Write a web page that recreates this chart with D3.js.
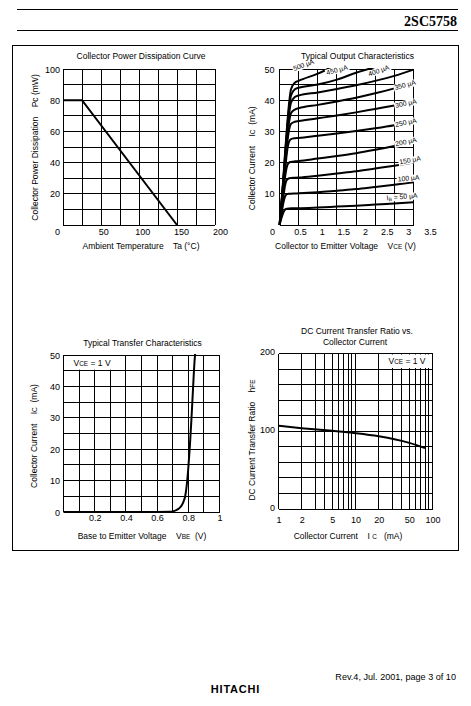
<!DOCTYPE html>
<html><head><meta charset="utf-8">
<script src="https://cdn.jsdelivr.net/npm/d3@7"></script>
<style>
html,body{margin:0;padding:0;background:#fff;}
svg{display:block;}
text{white-space:pre;}
</style></head><body>
<svg id="c" width="471" height="706"></svg>
<script>
// ---------------- DATA ----------------
// Collector power dissipation curve
const pdTemp = [0, 25, 150];
const pdPower = [80, 80, 0];
const pdXTicks = [50, 100, 150, 200];
const pdYTicks = [20, 40, 60, 80, 100];

// Typical output characteristics (Vce grid shared by all IB curves)
const outVce = [0, 0.05, 0.1, 0.15, 0.2, 0.25, 0.3, 0.4, 0.5, 1, 1.5, 2, 2.5, 3, 3.5];
const ic50  = [0, 2.2, 4.0, 5.0, 5.25, 5.3, 5.35, 5.4, 5.4, 5.6, 5.9, 6.2, 6.55, 6.9, 7.3];
const ic100 = [0, 3.5, 7.0, 9.3, 9.9, 10.0, 10.05, 10.1, 10.15, 10.5, 11.0, 11.5, 12.2, 12.9, 13.7];
const ic150 = [0, 4.3, 9.0, 13.0, 14.6, 15.0, 15.1, 15.15, 15.2, 15.8, 16.5, 17.2, 18.1, 19.0, 20.0];
const ic200 = [0, 5.0, 10.5, 15.8, 19.0, 20.0, 20.2, 20.4, 20.5, 21.3, 22.1, 23.0, 24.1, 25.3, 26.4];
const ic250 = [0, 5.6, 11.8, 18.2, 23.8, 26.7, 27.5, 27.8, 27.9, 28.6, 29.3, 30.1, 31.0, 32.0, 33.2];
const ic300 = [0, 6.0, 12.5, 19.5, 26.0, 30.5, 32.4, 33.1, 33.3, 34.2, 35.1, 36.1, 37.2, 38.3, 39.5];
const ic350 = [0, 6.2, 13.2, 21.0, 28.0, 33.0, 35.8, 37.0, 37.4, 38.5, 39.6, 40.8, 42.2, 43.8, 45.6];
const ic400 = [0, 6.5, 14.0, 22.0, 29.5, 35.5, 39.2, 41.0, 41.5, 42.5, 43.6, 44.8, 46.2, 47.8, 49.8];
const ic450 = [0, 6.8, 14.5, 23.0, 31.0, 37.5, 41.5, 43.5, 44.0, 45.0, 46.6, 48.8, 50.6, null, null];
const ic500 = [0, 7.0, 15.0, 24.0, 32.0, 39.0, 43.5, 45.6, 46.2, 48.5, 51.5, null, null, null, null];
const outCurves = [ic50, ic100, ic150, ic200, ic250, ic300, ic350, ic400, ic450, ic500];
const outLabels = ["50 µA", "100 µA", "150 µA", "200 µA", "250 µA", "300 µA", "350 µA", "400 µA", "450 µA", "500 µA"];
const outLabelVce = [3.2, 3.37, 3.41, 3.3, 3.3, 3.3, 3.28, 2.59, 1.5, 0.63];
const outLabelIc  = [9.1, 15.0, 20.8, 26.7, 32.9, 39.0, 44.9, 49.5, 49.7, 51.3];
const outLabelAngle = [-5, -5, -10, -12, -12, -12, -15, -20, -15, -20];
const outXTicks = [0.5, 1, 1.5, 2, 2.5, 3, 3.5];
const outYTicks = [10, 20, 30, 40, 50];

// Typical transfer characteristics
const tfVbe = [0, 0.6, 0.68, 0.7, 0.72, 0.74, 0.76, 0.77, 0.78, 0.79, 0.8, 0.81, 0.82, 0.83, 0.84, 0.845];
const tfIc  = [0, 0, 0.05, 0.2, 0.5, 1.1, 2.3, 3.4, 5.0, 8.5, 14, 21, 29.5, 39, 48, 51];
const tfXTicks = [0.2, 0.4, 0.6, 0.8, 1];
const tfXTickText = ["0.2", "0.4", "0.6", "0.8", "1"];
const tfYTicks = [10, 20, 30, 40, 50];

// DC current transfer ratio vs collector current
const hfeIc = [1, 2, 5, 10, 20, 50, 80];
const hfeVal = [107, 104, 100.5, 97.5, 93.5, 85, 78.5];
const hfeXTicks = [1, 2, 5, 10, 20, 50, 100];
const hfeYTicks = [0, 100, 200];

// ---------------- DRAWING ----------------
const FONT = '"Liberation Sans", Arial, Helvetica, sans-serif';
const svg = d3.select('#c').style('font-family', FONT);
const BLACK = '#000';

// page furniture
svg.append('line').attr('x1', 17).attr('x2', 458).attr('y1', 9.5).attr('y2', 9.5).attr('stroke', BLACK).attr('stroke-width', 1);
svg.append('line').attr('x1', 17).attr('x2', 458).attr('y1', 30.5).attr('y2', 30.5).attr('stroke', BLACK).attr('stroke-width', 1);
svg.append('text').attr('x', 457).attr('y', 25.5).attr('text-anchor', 'end')
  .style('font-family', '"Liberation Serif","Times New Roman",serif').style('font-weight', 'bold').style('font-size', '14px')
  .text('2SC5758');
svg.append('rect').attr('x', 12.5).attr('y', 45.5).attr('width', 446).attr('height', 505)
  .attr('fill', 'none').attr('stroke', BLACK).attr('stroke-width', 1);
svg.append('text').attr('x', 456).attr('y', 680).attr('text-anchor', 'end').style('font-size', '9.1px')
  .text('Rev.4, Jul. 2001, page 3 of 10');
svg.append('text').attr('x', 235.5).attr('y', 693).attr('text-anchor', 'middle')
  .style('font-size', '11px').style('font-weight', 'bold').style('letter-spacing', '0.8px')
  .text('HITACHI');

function rich(sel, parts, size) {
  parts.forEach(p => {
    const t = sel.append('tspan').text(p[0]);
    if (p[1]) t.style('font-size', (size * 0.76) + 'px');
  });
  return sel;
}
function label(x, y, parts, size, rot) {
  const t = svg.append('text').attr('text-anchor', 'middle').style('font-size', size + 'px')
    .attr('transform', `translate(${x},${y})` + (rot ? ` rotate(${rot})` : ''));
  rich(t, parts, size);
  return t;
}
function grid(xs, ys, xv, yv) {
  const g = svg.append('g').attr('shape-rendering', 'crispEdges');
  const [x0, x1] = xs.range(), [y0, y1] = ys.range();
  g.selectAll('.v').data(xv).join('line').attr('x1', d => xs(d)).attr('x2', d => xs(d))
    .attr('y1', y0).attr('y2', y1).attr('stroke', BLACK).attr('stroke-width', 1);
  g.selectAll('.h').data(yv).join('line').attr('y1', d => ys(d)).attr('y2', d => ys(d))
    .attr('x1', x0).attr('x2', x1).attr('stroke', BLACK).attr('stroke-width', 1);
  return g;
}
function xAxis(scale, ticks, y, fmt) {
  const g = svg.append('g').attr('transform', `translate(0,${y})`)
    .call(d3.axisBottom(scale).tickValues(ticks).tickSize(0).tickPadding(0).tickFormat(fmt || (d => d)));
  g.select('.domain').remove();
  g.attr('font-family', FONT).attr('font-size', 9);
  g.selectAll('text').attr('dy', '0.35em');
  return g;
}
function yAxis(scale, ticks, x, dy) {
  const g = svg.append('g').attr('transform', `translate(${x},0)`)
    .call(d3.axisLeft(scale).tickValues(ticks).tickSize(0).tickPadding(0));
  g.select('.domain').remove();
  g.attr('font-family', FONT).attr('font-size', 9);
  g.selectAll('text').attr('dy', '0.35em').attr('y', dy || 0);
  return g;
}
function clip(id, xs, ys) {
  const [x0, x1] = xs.range(), [y0, y1] = ys.range();
  svg.append('clipPath').attr('id', id).append('rect')
    .attr('x', x0 - 1).attr('y', y1 - 1).attr('width', x1 - x0 + 2).attr('height', y0 - y1 + 2);
  return `url(#${id})`;
}

// ---- Chart 1: Collector Power Dissipation Curve ----
{
  const xs = d3.scaleLinear().domain([0, 200]).range([63, 215]);
  const ys = d3.scaleLinear().domain([0, 100]).range([225, 69]);
  grid(xs, ys, d3.range(0, 201, 25), d3.range(0, 101, 10));
  const line = d3.line().x(d => xs(d[0])).y(d => ys(d[1]));
  svg.append('path').datum(d3.zip(pdTemp, pdPower)).attr('d', line)
    .attr('fill', 'none').attr('stroke', BLACK).attr('stroke-width', 2);
  const lx = d3.scaleLinear().domain([0, 200]).range([64.4, 220]);
  xAxis(lx, pdXTicks, 232);
  yAxis(ys, pdYTicks, 60);
  svg.append('text').attr('x', 57.5).attr('y', 232).attr('dy', '0.35em').attr('text-anchor', 'middle').style('font-size', '9px').text(0);
  label(141, 56, [['Collector Power Dissipation Curve']], 8.5).attr('dy', '0.35em');
  label(141, 249, [['Ambient Temperature    Ta (°C)']], 8.5);
  label(38, 147.5, [['Collector Power Dissipation    Pc (mW)']], 8.5, -90);
}

// ---- Chart 2: Typical Output Characteristics ----
{
  const xs = d3.scaleLinear().domain([0, 3.5]).range([279.5, 413.5]);
  const ys = d3.scaleLinear().domain([0, 50]).range([225, 69]);
  grid(xs, ys, d3.range(0, 3.51, 0.5), d3.range(0, 50.1, 5));
  const cp = clip('c2', xs, ys);
  const line = d3.line().defined(d => d[1] !== null).x(d => xs(d[0])).y(d => ys(d[1])).curve(d3.curveMonotoneX);
  svg.append('g').attr('clip-path', cp).selectAll('path').data(outCurves).join('path')
    .attr('d', c => line(d3.zip(outVce, c))).attr('fill', 'none').attr('stroke', BLACK)
    .attr('stroke-width', 2).attr('stroke-linejoin', 'round');
  const lg = svg.append('g');
  outLabels.forEach((t, i) => {
    const g = lg.append('g').attr('transform', `translate(${xs(outLabelVce[i])},${ys(outLabelIc[i])}) rotate(${outLabelAngle[i]})`);
    const r = g.append('rect').attr('fill', '#fff');
    const tx = g.append('text').attr('text-anchor', 'middle').attr('dy', '0.35em').style('font-size', '6.8px').attr('fill', BLACK);
    if (i === 0) { tx.append('tspan').text('I'); tx.append('tspan').text('B').style('font-size', '5px').attr('dy', '1.2'); tx.append('tspan').text(' = ' + t).attr('dy', '-1.2'); }
    else tx.text(t);
    const b = tx.node().getBBox();
    r.attr('x', b.x - 1).attr('y', b.y + 0.5).attr('width', b.width + 2).attr('height', b.height - 1);
  });
  const lx = d3.scaleLinear().domain([0, 3.5]).range([278.3, 430]);
  xAxis(lx, outXTicks, 232);
  yAxis(ys, outYTicks, 274.5);
  svg.append('text').attr('x', 272.5).attr('y', 232).attr('dy', '0.35em').attr('text-anchor', 'middle').style('font-size', '9px').text(0);
  label(357.5, 56, [['Typical Output Characteristics']], 8.5).attr('dy', '0.35em');
  rich(label(345.5, 249, [['Collector to Emitter Voltage    V']], 8.5), [['CE', 1], [' (V)']], 8.5);
  rich(label(255, 158.3, [['Collector Current    I']], 8.5, -90), [['C', 1], ['  (mA)']], 8.5);
}

// ---- Chart 3: Typical Transfer Characteristics ----
{
  const xs = d3.scaleLinear().domain([0, 1]).range([63.5, 219.5]);
  const ys = d3.scaleLinear().domain([0, 50]).range([512, 355]);
  grid(xs, ys, d3.range(0, 1.01, 0.1), d3.range(0, 50.1, 5));
  svg.append('rect').attr('x', xs(0) + 1).attr('y', ys(50) + 1).attr('width', xs(0.4) - xs(0) - 2)
    .attr('height', ys(45) - ys(50) - 2).attr('fill', '#fff');
  rich(svg.append('text').attr('x', 73.5).attr('y', 363.5).attr('dy', '0.35em').style('font-size', '8.5px'),
    [['V'], ['CE', 1], [' = 1 V']], 8.5);
  const cp = clip('c3', xs, ys);
  const line = d3.line().x(d => xs(d[0])).y(d => ys(d[1])).curve(d3.curveMonotoneX);
  svg.append('path').attr('clip-path', cp).datum(d3.zip(tfVbe, tfIc)).attr('d', line)
    .attr('fill', 'none').attr('stroke', BLACK).attr('stroke-width', 2);
  xAxis(xs, tfXTicks, 517.5, (d, i) => tfXTickText[i]);
  yAxis(ys, tfYTicks.concat([0]), 60);
  label(142.5, 343.5, [['Typical Transfer Characteristics']], 8.5).attr('dy', '0.35em');
  rich(label(142, 539, [['Base to Emitter Voltage    V']], 8.5), [['BE', 1], ['  (V)']], 8.5);
  rich(label(37, 436, [['Collector Current    I']], 8.5, -90), [['C', 1], ['  (mA)']], 8.5);
}

// ---- Chart 4: DC Current Transfer Ratio vs. Collector Current ----
{
  const xs = d3.scaleLog().domain([1, 100]).range([278.5, 432.5]);
  const ys = d3.scaleLinear().domain([0, 200]).range([509, 353.5]);
  const vv = d3.range(1, 10).concat(d3.range(10, 101, 10));
  grid(xs, ys, vv, d3.range(0, 201, 20));
  svg.append('rect').attr('x', xs(20) + 1).attr('y', ys(200) + 1).attr('width', xs(100) - xs(20) - 2)
    .attr('height', ys(180) - ys(200) - 2).attr('fill', '#fff');
  rich(svg.append('text').attr('x', 407).attr('y', 361.5).attr('dy', '0.35em').attr('text-anchor', 'middle').style('font-size', '8.5px'),
    [['V'], ['CE', 1], [' = 1 V']], 8.5);
  const line = d3.line().x(d => xs(d[0])).y(d => ys(d[1])).curve(d3.curveMonotoneX);
  svg.append('path').datum(d3.zip(hfeIc, hfeVal)).attr('d', line)
    .attr('fill', 'none').attr('stroke', BLACK).attr('stroke-width', 2);
  xAxis(xs, hfeXTicks, 520, d => d);
  yAxis(ys, hfeYTicks, 275, -2);
  label(357, 331.5, [['DC Current Transfer Ratio vs.']], 8.5).attr('dy', '0.35em');
  label(355, 342, [['Collector Current']], 8.5).attr('dy', '0.35em');
  rich(label(348, 539, [['Collector Current    I ']], 8.5), [['C', 1], ['   (mA)']], 8.5);
  rich(label(255, 440, [['DC Current Transfer Ratio    h']], 8.5, -90), [['FE', 1]], 8.5);
}
</script>
</body></html>
